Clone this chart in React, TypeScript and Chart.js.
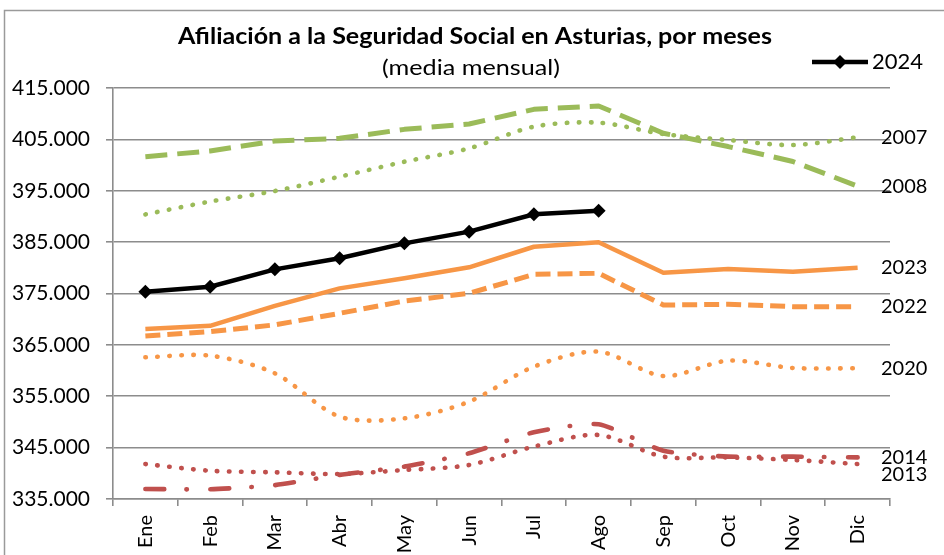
import React, { useEffect, useRef } from "react";
import { Chart, registerables } from "chart.js";

Chart.register(...registerables);

const months = ["Ene", "Feb", "Mar", "Abr", "May", "Jun", "Jul", "Ago", "Sep", "Oct", "Nov", "Dic"];

const s2024 = [375350, 376330, 379700, 381850, 384760, 387040, 390410, 391120, null, null, null, null];
const s2023 = [368100, 368700, 372600, 376000, 377950, 380100, 384100, 384960, 379050, 379770, 379250, 380030];
const s2022 = [366730, 367570, 368900, 371140, 373540, 375030, 378730, 378930, 372760, 372900, 372440, 372440];
const s2020 = [362580, 362900, 359460, 351030, 350700, 353950, 360760, 363680, 358940, 361930, 360500, 360450];
const s2008 = [401630, 402740, 404680, 405200, 406950, 408000, 410850, 411500, 406200, 403600, 400700, 395900];
const s2007 = [390400, 392900, 394950, 397740, 400650, 403250, 407470, 408250, 406050, 404880, 403900, 405400];
const s2014 = [336950, 336900, 337700, 339700, 341300, 343900, 348000, 349550, 344400, 343250, 343250, 343100];
const s2013 = [341800, 340500, 340200, 339870, 340640, 341620, 345200, 347460, 343240, 343100, 342600, 341800];

const yMin = 335000;
const yMax = 415000;
const yStep = 10000;

const titleText = "Afiliación a la Seguridad Social en Asturias, por meses";
const subtitleText = "(media mensual)";

const GREEN = "#9BBB59";
const ORANGE = "#F79646";
const RED = "#C0504D";
const GRID = "#8c8c8c";
const FONT = "Lato";

const fmt = (v: number) => String(Math.round(v)).replace(/\B(?=(\d{3})+(?!\d))/g, ".");

function fitText(ctx: any, text: string, cx: number, cy: number, width: number) {
  const w = ctx.measureText(text).width;
  const sx = w > 0 ? width / w : 1;
  ctx.save();
  ctx.translate(cx, cy);
  ctx.scale(sx, 1);
  ctx.textAlign = "center";
  ctx.fillText(text, 0, 0);
  ctx.restore();
}

const decorPlugin = {
  id: "decor",
  beforeDraw(chart: any) {
    const ctx = chart.ctx;
    ctx.save();
    ctx.strokeStyle = "#9a9a9a";
    ctx.lineWidth = 1.5;
    ctx.beginPath();
    ctx.moveTo(4.5, 555);
    ctx.lineTo(4.5, 10.5);
    ctx.lineTo(944, 10.5);
    ctx.stroke();
    ctx.restore();
  },
  afterDraw(chart: any) {
    const ctx = chart.ctx;
    const area = chart.chartArea;
    ctx.save();
    // title
    ctx.fillStyle = "#000";
    ctx.textBaseline = "middle";
    ctx.font = `bold 22px ${FONT}`;
    fitText(ctx, titleText, 475, 37, 594);
    ctx.font = `22px ${FONT}`;
    fitText(ctx, subtitleText, 471, 68, 178);
    // legend
    ctx.strokeStyle = "#000";
    ctx.lineWidth = 4.5;
    ctx.beginPath();
    ctx.moveTo(812, 62);
    ctx.lineTo(868, 62);
    ctx.stroke();
    ctx.fillStyle = "#000";
    ctx.beginPath();
    ctx.moveTo(840, 55);
    ctx.lineTo(847, 62);
    ctx.lineTo(840, 69);
    ctx.lineTo(833, 62);
    ctx.closePath();
    ctx.fill();
    ctx.textAlign = "left";
    ctx.font = `22px ${FONT}`;
    ctx.fillText("2024", 872, 62);
    // end labels
    const ys = chart.scales.y;
    const items: { text: string; y: number }[] = [];
    chart.data.datasets.forEach((ds: any) => {
      if (!ds.endLabel) return;
      const arr = ds.data;
      let last = null;
      for (let i = arr.length - 1; i >= 0; i--) {
        if (arr[i] != null) { last = arr[i]; break; }
      }
      if (last == null) return;
      items.push({ text: ds.label, y: ys.getPixelForValue(last) });
    });
    items.sort((a, b) => a.y - b.y);
    for (let i = 1; i < items.length; i++) {
      if (items[i].y - items[i - 1].y < 17) items[i].y = items[i - 1].y + 17;
    }
    ctx.font = `20px ${FONT}`;
    ctx.textAlign = "left";
    items.forEach((it) => ctx.fillText(it.text, area.right - 9, it.y));
    ctx.restore();
  },
};

function line(label: string, data: (number | null)[], color: string, style: string, endLabel = true): any {
  const base: any = {
    label,
    data,
    borderColor: color,
    backgroundColor: color,
    pointRadius: 0,
    fill: false,
    borderWidth: 4.5,
    tension: 0,
    endLabel,
    borderCapStyle: "butt",
    borderJoinStyle: "round",
  };
  if (style === "dot") {
    base.borderDash = [0.5, 11.5];
    base.borderCapStyle = "round";
    base.borderWidth = 4.6;
    base.tension = 0.3;
  } else if (style === "dash") {
    base.borderDash = [15, 7];
    base.borderWidth = 5;
  } else if (style === "longdash") {
    base.borderDash = [22, 10];
    base.borderWidth = 5;
  } else if (style === "dashdot") {
    base.borderDash = [19, 22, 0.5, 23.5];
    base.borderCapStyle = "round";
    base.borderWidth = 4.6;
    base.tension = 0.2;
  }
  return base;
}

export default function App() {
  const ref = useRef<HTMLCanvasElement | null>(null);

  useEffect(() => {
    document.body.style.margin = "0";
    const canvas = ref.current;
    if (!canvas) return;
    const ds2024 = {
      label: "2024",
      data: s2024,
      borderColor: "#000",
      backgroundColor: "#000",
      borderWidth: 4.5,
      pointStyle: "rectRot",
      pointRadius: 7,
      pointBorderWidth: 0,
      pointBackgroundColor: "#000",
      tension: 0,
      fill: false,
      endLabel: false,
    };
    const chart = new Chart(canvas, {
      type: "line",
      data: {
        labels: months,
        datasets: [
          ds2024,
          line("2023", s2023, ORANGE, "solid"),
          line("2022", s2022, ORANGE, "dash"),
          line("2020", s2020, ORANGE, "dot"),
          line("2008", s2008, GREEN, "longdash"),
          line("2007", s2007, GREEN, "dot"),
          line("2014", s2014, RED, "dashdot"),
          line("2013", s2013, RED, "dot"),
        ] as any,
      },
      options: {
        animation: false,
        responsive: false,
        layout: { padding: { left: 0, right: 54, top: 88, bottom: 0 } },
        plugins: {
          legend: { display: false },
          title: { display: false },
          tooltip: { enabled: false },
        },
        scales: {
          x: {
            type: "category",
            offset: true,
            grid: {
              offset: true,
              drawOnChartArea: false,
              drawTicks: true,
              tickLength: 7,
              color: GRID,
              lineWidth: 1.6,
            },
            border: { display: true, color: GRID, width: 1.6 },
            ticks: {
              autoSkip: false,
              minRotation: 90,
              maxRotation: 90,
              padding: 9,
              color: "#000",
              font: { family: FONT, size: 20 },
            },
            afterFit: (scale: any) => {
              scale.height = 56;
            },
          },
          y: {
            min: yMin,
            max: yMax,
            ticks: {
              stepSize: yStep,
              padding: 16,
              color: "#000",
              font: { family: FONT, size: 21 },
              callback: (v: any) => fmt(Number(v)),
            },
            grid: {
              color: GRID,
              lineWidth: 1.6,
              drawTicks: true,
              tickLength: 7,
            },
            border: { display: true, color: GRID, width: 1.6 },
            afterFit: (scale: any) => {
              scale.width = 113;
            },
          },
        },
      } as any,
      plugins: [decorPlugin],
    });
    return () => chart.destroy();
  }, []);

  return (
    <div style={{ width: 944, height: 555, position: "relative", background: "#fff" }}>
      <canvas ref={ref} width={944} height={555} style={{ display: "block" }} />
    </div>
  );
}
